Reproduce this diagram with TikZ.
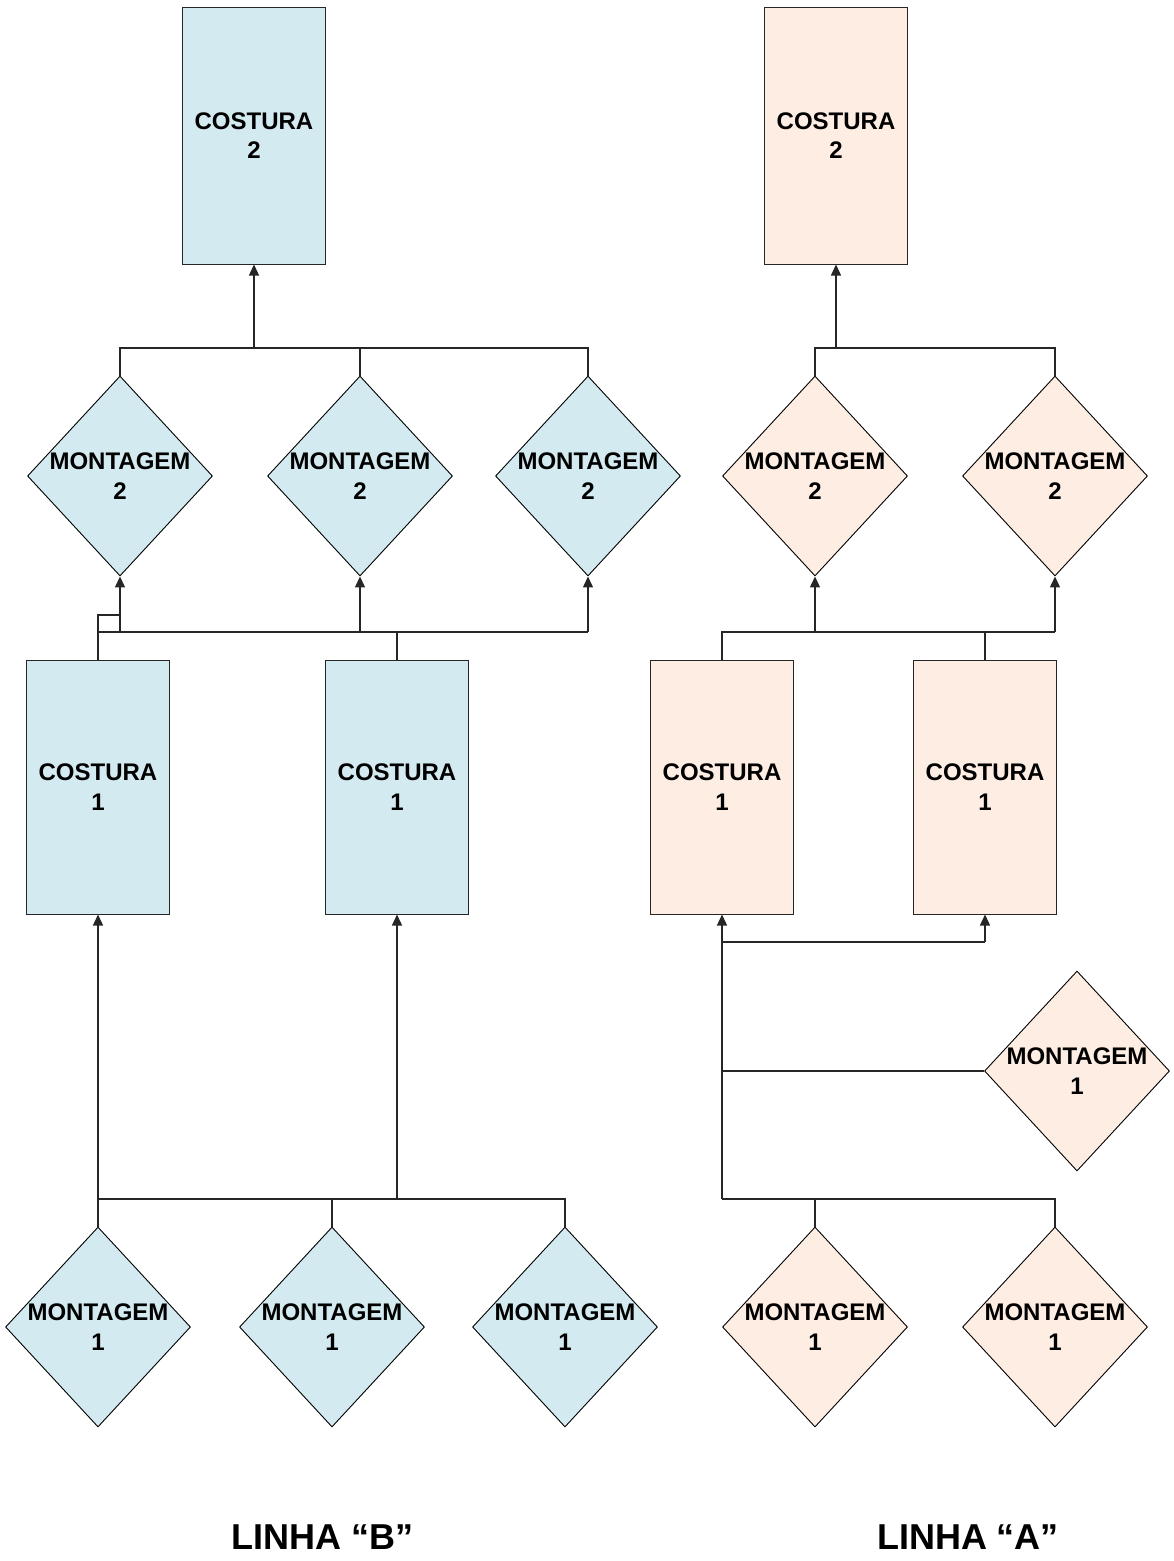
\documentclass[tikz,border=0pt]{standalone}
\usepackage{fontspec}
\setmainfont{Liberation Sans}
\usetikzlibrary{shapes.geometric,arrows.meta}
\definecolor{bfill}{RGB}{210,234,240}
\definecolor{afill}{RGB}{253,237,226}
\begin{document}
\begin{tikzpicture}[x=1pt,y=-1pt,
  lbl/.style={font=\fontsize{24}{29.5}\selectfont\bfseries, align=center},
  box/.style={lbl, draw=black!85, line width=1pt, minimum width=143pt, minimum height=257pt, inner sep=0pt},
  lowbox/.style={box, minimum height=254pt},
  diam/.style={diamond, draw=black, line width=0.9pt, minimum width=185pt, minimum height=200pt, inner sep=0pt},
  wire/.style={line width=1.3pt, black!85},
  arr/.style={wire, -{Triangle[length=11pt,width=10pt]}},
  title/.style={font=\fontsize{36}{42}\selectfont\bfseries}
]
\useasboundingbox (0,0) rectangle (1173,1561);

% ---------------- LINHA "B" ----------------
\node[box, fill=bfill] (bC2) at (254,135.5) {COSTURA\\2};

\node[diam, fill=bfill] (bM2a) at (120,476) {};
\node[diam, fill=bfill] (bM2b) at (360,476) {};
\node[diam, fill=bfill] (bM2c) at (588,476) {};
\node[lbl] (bM2at) at (bM2a) {MONTAGEM\\2};
\node[lbl] (bM2bt) at (bM2b) {MONTAGEM\\2};
\node[lbl] (bM2ct) at (bM2c) {MONTAGEM\\2};

\node[lowbox, fill=bfill] (bC1a) at (98,787) {COSTURA\\1};
\node[lowbox, fill=bfill] (bC1b) at (397,787) {COSTURA\\1};

\node[diam, fill=bfill] (bM1a) at (98,1327) {};
\node[diam, fill=bfill] (bM1b) at (332,1327) {};
\node[diam, fill=bfill] (bM1c) at (565,1327) {};
\node[lbl] (bM1at) at (bM1a) {MONTAGEM\\1};
\node[lbl] (bM1bt) at (bM1b) {MONTAGEM\\1};
\node[lbl] (bM1ct) at (bM1c) {MONTAGEM\\1};

\coordinate (bTop) at (254,348);
\coordinate (bMid) at (98,632);
\coordinate (bJog) at (98,615);
\coordinate (bLow) at (98,1199);

% top collector into COSTURA 2
\draw[wire] (bM2a.north) -- (bM2a.north |- bTop) -- (bM2c.north |- bTop) -- (bM2c.north);
\draw[wire] (bM2b.north) -- (bM2b.north |- bTop);
\draw[arr] (bTop) -- (bC2.south);

% COSTURA 1 feeding the MONTAGEM 2 stations
\draw[wire] (bMid) -- (bM2c.south |- bMid);
\draw[arr] (bM2a.south |- bMid) -- (bM2a.south);
\draw[arr] (bM2b.south |- bMid) -- (bM2b.south);
\draw[arr] (bM2c.south |- bMid) -- (bM2c.south);
\draw[wire] (bC1a.north) -- (bJog) -- (bJog -| bM2a.south);
\draw[wire] (bC1b.north) -- (bC1b.north |- bMid);

% MONTAGEM 1 stations feeding COSTURA 1
\draw[wire] (bM1a.north) -- (bLow) -- (bM1c.north |- bLow) -- (bM1c.north);
\draw[wire] (bM1b.north) -- (bM1b.north |- bLow);
\draw[arr] (bLow) -- (bC1a.south);
\draw[arr] (bC1b.south |- bLow) -- (bC1b.south);

\node[title] (tB) at (322.5,1537) {LINHA “B”};

% ---------------- LINHA "A" ----------------
\node[box, fill=afill] (aC2) at (836,135.5) {COSTURA\\2};

\node[diam, fill=afill] (aM2a) at (815,476) {};
\node[diam, fill=afill] (aM2b) at (1055,476) {};
\node[lbl] (aM2at) at (aM2a) {MONTAGEM\\2};
\node[lbl] (aM2bt) at (aM2b) {MONTAGEM\\2};

\node[lowbox, fill=afill] (aC1a) at (722,787) {COSTURA\\1};
\node[lowbox, fill=afill] (aC1b) at (985,787) {COSTURA\\1};

\node[diam, fill=afill] (aM1r) at (1077,1071) {};
\node[lbl] (aM1rt) at (aM1r) {MONTAGEM\\1};

\node[diam, fill=afill] (aM1a) at (815,1327) {};
\node[diam, fill=afill] (aM1b) at (1055,1327) {};
\node[lbl] (aM1at) at (aM1a) {MONTAGEM\\1};
\node[lbl] (aM1bt) at (aM1b) {MONTAGEM\\1};

\coordinate (aTop) at (836,348);
\coordinate (aMid) at (722,632);
\coordinate (aSplit) at (722,942);
\coordinate (aSide) at (722,1071);
\coordinate (aLow) at (722,1199);

% top collector into COSTURA 2
\draw[wire] (aM2a.north) -- (aM2a.north |- aTop) -- (aM2b.north |- aTop) -- (aM2b.north);
\draw[arr] (aTop) -- (aC2.south);

% COSTURA 1 feeding the MONTAGEM 2 stations
\draw[wire] (aC1a.north) -- (aMid) -- (aM2b.south |- aMid);
\draw[wire] (aC1b.north) -- (aC1b.north |- aMid);
\draw[arr] (aM2a.south |- aMid) -- (aM2a.south);
\draw[arr] (aM2b.south |- aMid) -- (aM2b.south);

% MONTAGEM 1 stations feeding COSTURA 1
\draw[arr] (aLow) -- (aC1a.south);
\draw[wire] (aSplit) -- (aSplit -| aC1b.south);
\draw[arr] (aSplit -| aC1b.south) -- (aC1b.south);
\draw[wire] (aSide) -- (aM1r.west);
\draw[wire] (aM1a.north) -- (aM1a.north |- aLow) -- (aLow);
\draw[wire] (aM1a.north |- aLow) -- (aM1b.north |- aLow) -- (aM1b.north);

\node[title] (tA) at (968,1537) {LINHA “A”};
\end{tikzpicture}
\end{document}
